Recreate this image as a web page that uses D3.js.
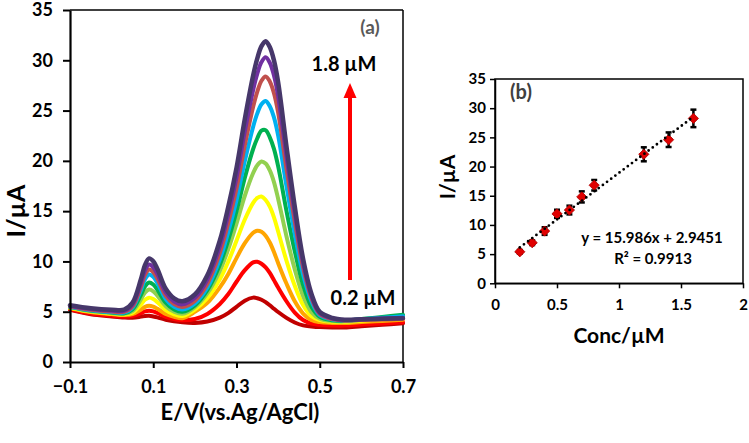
<!DOCTYPE html>
<html>
<head>
<meta charset="utf-8">
<script src="https://cdn.jsdelivr.net/npm/d3@7"></script>
<style>
  html, body { margin: 0; padding: 0; background: #fff; }
  svg { display: block; font-family: "Lato", "Open Sans", sans-serif; font-weight: bold; }
</style>
</head>
<body>
<script>
// ---------- Panel (a): DPV curves ----------
const potential = [-0.1, -0.05, 0, 0.03, 0.05, 0.07, 0.08, 0.09, 0.1, 0.11, 0.13, 0.15, 0.17, 0.2, 0.23, 0.26, 0.28, 0.3, 0.32, 0.34, 0.35, 0.36, 0.37, 0.38, 0.39, 0.4, 0.42, 0.44, 0.46, 0.48, 0.5, 0.53, 0.56, 0.6, 0.65, 0.7];

const curveConc = ["0.2", "0.4", "0.6", "0.8", "1.0", "1.2", "1.4", "1.5", "1.6", "1.8"];
const curveColors = ["#C00000", "#FF0000", "#FFA500", "#FFFF00", "#92D050", "#00B050", "#00B0F0", "#C0504D", "#7030A0", "#46376A"];

const cur02 = [5.2, 4.75, 4.53, 4.42, 4.4, 4.51, 4.58, 4.6, 4.53, 4.44, 4.2, 4.04, 3.94, 3.89, 4.02, 4.41, 4.86, 5.49, 6.1, 6.4, 6.34, 6.19, 5.96, 5.64, 5.3, 4.97, 4.39, 3.93, 3.64, 3.54, 3.47, 3.43, 3.43, 3.55, 3.7, 3.85];
const cur04 = [5.25, 4.83, 4.62, 4.52, 4.56, 4.85, 5.03, 5.1, 5.03, 4.87, 4.49, 4.27, 4.15, 4.27, 4.78, 5.77, 6.73, 7.98, 9.13, 9.91, 9.96, 9.77, 9.41, 8.86, 8.14, 7.4, 6.04, 4.91, 4.17, 3.82, 3.7, 3.63, 3.62, 3.72, 3.83, 3.95];
const cur06 = [5.35, 4.96, 4.77, 4.68, 4.76, 5.2, 5.48, 5.6, 5.5, 5.29, 4.78, 4.5, 4.36, 4.99, 5.88, 7.42, 8.73, 10.33, 11.81, 12.85, 13.06, 12.95, 12.56, 11.88, 10.94, 9.84, 7.8, 6.04, 4.82, 4.17, 3.97, 3.89, 3.87, 3.97, 4.08, 4.2];
const cur08 = [5.4, 5.01, 4.82, 4.73, 4.91, 5.69, 6.19, 6.4, 6.27, 5.95, 5.16, 4.74, 4.57, 5.22, 6.37, 8.23, 9.96, 12.06, 14.17, 15.82, 16.31, 16.45, 16.11, 15.44, 14.38, 12.98, 10.08, 7.58, 5.66, 4.55, 4.18, 4.0, 3.98, 4.1, 4.25, 4.4];
const cur10 = [5.45, 5.06, 4.87, 4.8, 5.07, 6.19, 6.89, 7.2, 7.03, 6.6, 5.55, 5.0, 4.79, 5.46, 6.83, 9.07, 11.2, 13.76, 16.53, 18.79, 19.57, 19.94, 19.73, 19.05, 17.89, 16.24, 12.51, 9.21, 6.56, 4.96, 4.32, 4.08, 4.04, 4.2, 4.4, 4.6];
const cur12 = [5.5, 5.11, 4.92, 4.85, 5.22, 6.63, 7.51, 7.9, 7.7, 7.18, 5.89, 5.22, 4.99, 5.63, 7.14, 9.68, 12.1, 14.99, 18.33, 21.18, 22.25, 23.0, 23.05, 22.34, 21.19, 19.47, 15.04, 11.01, 7.64, 5.5, 4.5, 4.16, 4.09, 4.27, 4.48, 4.7];
const cur14 = [5.5, 5.14, 4.96, 4.91, 5.39, 7.12, 8.21, 8.7, 8.46, 7.84, 6.27, 5.48, 5.21, 5.81, 7.4, 10.22, 12.91, 16.09, 19.98, 23.4, 24.72, 25.63, 25.96, 25.43, 24.32, 22.54, 17.49, 12.74, 8.69, 6.02, 4.66, 4.23, 4.13, 4.25, 4.4, 4.55];
const cur15 = [5.55, 5.19, 5.01, 4.98, 5.52, 7.43, 8.64, 9.2, 8.94, 8.28, 6.58, 5.75, 5.47, 6.08, 7.78, 10.85, 13.79, 17.25, 21.55, 25.37, 26.88, 27.97, 28.4, 27.9, 26.73, 24.81, 19.23, 13.94, 9.38, 6.35, 4.76, 4.26, 4.11, 4.17, 4.23, 4.3];
const cur16 = [5.6, 5.27, 5.1, 5.09, 5.69, 7.78, 9.09, 9.7, 9.42, 8.72, 6.9, 6.01, 5.73, 6.38, 8.2, 11.49, 14.63, 18.34, 22.95, 27.05, 28.66, 29.82, 30.3, 29.75, 28.49, 26.44, 20.44, 14.75, 9.84, 6.58, 4.87, 4.33, 4.17, 4.23, 4.32, 4.4];
const cur18 = [5.65, 5.35, 5.2, 5.2, 5.88, 8.18, 9.63, 10.3, 10.01, 9.25, 7.28, 6.33, 6.04, 6.71, 8.62, 12.08, 15.39, 19.31, 24.17, 28.49, 30.19, 31.41, 31.9, 31.32, 29.99, 27.82, 21.46, 15.45, 10.25, 6.8, 4.98, 4.39, 4.21, 4.25, 4.3, 4.35];
const curves = [cur02, cur04, cur06, cur08, cur10, cur12, cur14, cur15, cur16, cur18];

const xTicksA = [-0.1, 0.1, 0.3, 0.5, 0.7];
const yTicks = [0, 5, 10, 15, 20, 25, 30, 35];

// ---------- Panel (b): calibration ----------
const conc = [0.2, 0.3, 0.4, 0.5, 0.6, 0.7, 0.8, 1.2, 1.4, 1.6];
const current = [5.4, 6.95, 8.95, 11.9, 12.55, 14.8, 16.8, 22.1, 24.6, 28.25];
const errBar = [0.3, 0.4, 0.65, 0.7, 0.75, 0.95, 0.9, 1.2, 1.25, 1.5];
const fitSlope = 15.986, fitIntercept = 2.9451;
const xTicksB = [0, 0.5, 1, 1.5, 2];

const svg = d3.select("body").append("svg").attr("width", 749).attr("height", 443);

// ===== Panel (a) =====
const xA = d3.scaleLinear().domain([-0.1, 0.7]).range([70, 403]);
const yA = d3.scaleLinear().domain([0, 35]).range([362, 10]);

const gA = svg.append("g");
// frame (top/right)
gA.append("line").attr("x1", xA(-0.1)).attr("x2", xA(0.7)).attr("y1", yA(35)).attr("y2", yA(35))
  .attr("stroke", "#000").attr("stroke-width", 1.5);
gA.append("line").attr("x1", xA(0.7)).attr("x2", xA(0.7)).attr("y1", yA(35)).attr("y2", yA(0))
  .attr("stroke", "#000").attr("stroke-width", 1.5);

const line = d3.line().x((d, i) => xA(potential[i])).y(d => yA(d)).curve(d3.curveCatmullRom.alpha(0.5));
curves.forEach((c, k) => {
  gA.append("path").attr("d", line(c)).attr("fill", "none")
    .attr("stroke", curveColors[k]).attr("stroke-width", k === curves.length - 1 ? 4.5 : 4)
    .attr("stroke-linejoin", "round").attr("stroke-linecap", "round");
});

const axA_y = gA.append("g").attr("transform", `translate(${xA(-0.1)},0)`)
  .call(d3.axisLeft(yA).tickValues(yTicks).tickSize(7).tickPadding(10).tickSizeOuter(0));
const axA_x = gA.append("g").attr("transform", `translate(0,${yA(0)})`)
  .call(d3.axisBottom(xA).tickValues(xTicksA).tickFormat(d3.format(".1f")).tickSize(6).tickPadding(12).tickSizeOuter(0));
[axA_y, axA_x].forEach(ax => {
  ax.selectAll("path.domain").attr("stroke", "#000").attr("stroke-width", 2.2);
  ax.selectAll(".tick line").attr("stroke", "#000").attr("stroke-width", 2);
  ax.selectAll(".tick text").attr("fill", "#000").attr("font-size", 18).attr("font-family", "Lato").attr("font-weight", "bold");
});

gA.append("text").attr("transform", "translate(25,211) rotate(-90)").attr("text-anchor", "middle")
  .attr("font-size", 25).text("I/µA");
gA.append("text").attr("x", 240).attr("y", 420).attr("text-anchor", "middle")
  .attr("font-size", 22).text("E/V(vs.Ag/AgCl)");
gA.append("text").attr("x", 370).attr("y", 34).attr("text-anchor", "middle")
  .attr("font-size", 19).attr("fill", "#595959").text("(a)");
gA.append("text").attr("x", 344).attr("y", 71).attr("text-anchor", "middle")
  .attr("font-size", 20).text("1.8 µM");
gA.append("text").attr("x", 363).attr("y", 305).attr("text-anchor", "middle")
  .attr("font-size", 20).text("0.2 µM");
// red arrow
gA.append("line").attr("x1", 350).attr("x2", 350).attr("y1", 280).attr("y2", 96)
  .attr("stroke", "#FF0000").attr("stroke-width", 4);
gA.append("path").attr("d", "M350,83 L343.5,98 L356.5,98 Z").attr("fill", "#FF0000");

// ===== Panel (b) =====
const xB = d3.scaleLinear().domain([0, 2]).range([495, 743]);
const yB = d3.scaleLinear().domain([0, 35]).range([283.3, 79]);
const gB = svg.append("g");

gB.append("rect").attr("x", xB(0)).attr("y", yB(35)).attr("width", xB(2) - xB(0)).attr("height", yB(0) - yB(35))
  .attr("fill", "none").attr("stroke", "#000").attr("stroke-width", 1.5);

const axB_y = gB.append("g").attr("transform", `translate(${xB(0)},0)`)
  .call(d3.axisLeft(yB).tickValues(yTicks).tickSize(5).tickPadding(4).tickSizeOuter(0));
const axB_x = gB.append("g").attr("transform", `translate(0,${yB(0)})`)
  .call(d3.axisBottom(xB).tickValues(xTicksB).tickFormat(d => String(d)).tickSize(5).tickPadding(11).tickSizeOuter(0));
[axB_y, axB_x].forEach(ax => {
  ax.selectAll("path.domain").attr("stroke", "#000").attr("stroke-width", 1.5);
  ax.selectAll(".tick line").attr("stroke", "#000").attr("stroke-width", 1.5);
  ax.selectAll(".tick text").attr("fill", "#000").attr("font-size", 15).attr("font-family", "Lato").attr("font-weight", "bold");
});

// error bars
conc.forEach((c, i) => {
  const x = xB(c), y1 = yB(current[i] + errBar[i]), y2 = yB(current[i] - errBar[i]);
  gB.append("line").attr("x1", x).attr("x2", x).attr("y1", y1).attr("y2", y2).attr("stroke", "#000").attr("stroke-width", 2.5);
  [y1, y2].forEach(y => gB.append("line").attr("x1", x - 3).attr("x2", x + 3).attr("y1", y).attr("y2", y)
    .attr("stroke", "#000").attr("stroke-width", 2.5));
});
// markers
const diamond = d3.symbol().type(d3.symbolSquare).size(52);
conc.forEach((c, i) => {
  gB.append("path").attr("d", diamond()).attr("transform", `translate(${xB(c)},${yB(current[i])}) rotate(45)`)
    .attr("fill", "#E00000").attr("stroke", "#B00000").attr("stroke-width", 0.8);
});
// trendline
const x0 = d3.min(conc), x1 = d3.max(conc);
gB.append("line").attr("x1", xB(x0)).attr("y1", yB(fitSlope * x0 + fitIntercept))
  .attr("x2", xB(x1)).attr("y2", yB(fitSlope * x1 + fitIntercept))
  .attr("stroke", "#000").attr("stroke-width", 2.8).attr("stroke-dasharray", "0,5.2").attr("stroke-linecap", "round");

gB.append("text").attr("transform", "translate(455,177) rotate(-90)").attr("text-anchor", "middle")
  .attr("font-size", 21).text("I/µA");
gB.append("text").attr("x", 619).attr("y", 343).attr("text-anchor", "middle")
  .attr("font-size", 21).text("Conc/µM");
gB.append("text").attr("x", 521).attr("y", 99).attr("text-anchor", "middle")
  .attr("font-size", 20).attr("fill", "#404040").text("(b)");
gB.append("text").attr("x", 652).attr("y", 243).attr("text-anchor", "middle")
  .attr("font-size", 15).text(`y = ${fitSlope}x + ${fitIntercept}`);
gB.append("text").attr("x", 653).attr("y", 264).attr("text-anchor", "middle")
  .attr("font-size", 15).text("R² = 0.9913");
</script>
</body>
</html>
